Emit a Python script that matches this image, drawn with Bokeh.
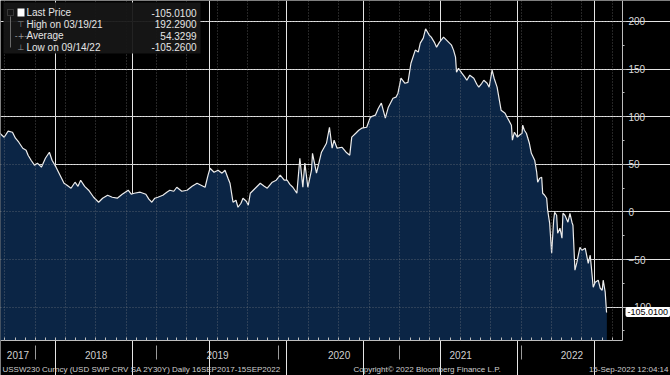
import pandas as pd
from bokeh.plotting import figure
from bokeh.models import (LinearAxis, FixedTicker, Grid, Range1d, Label,
                          BoxAnnotation, ColumnDataSource)
from bokeh.embed import file_html
from bokeh.resources import INLINE

# ---------------- data ----------------
dates = [
    "2017-09-16", "2017-09-29", "2017-10-11", "2017-10-24", "2017-11-02", "2017-11-12",
    "2017-11-24", "2017-12-04", "2017-12-10", "2017-12-19", "2017-12-29",
    "2018-01-07", "2018-01-19", "2018-01-31", "2018-02-12", "2018-02-20", "2018-03-04",
    "2018-03-16", "2018-03-28", "2018-04-06", "2018-04-18", "2018-04-30", "2018-05-09",
    "2018-05-17", "2018-05-29", "2018-06-10", "2018-06-25", "2018-07-10", "2018-07-22",
    "2018-08-06", "2018-08-20", "2018-09-04", "2018-09-19", "2018-10-07", "2018-10-16",
    "2018-10-25", "2018-11-12", "2018-11-29", "2018-12-08", "2018-12-17", "2018-12-26",
    "2019-01-04", "2019-01-19", "2019-01-31", "2019-02-09", "2019-02-21", "2019-03-02",
    "2019-03-17", "2019-04-02", "2019-04-17", "2019-05-02", "2019-05-14", "2019-05-26",
    "2019-06-04", "2019-06-10", "2019-06-22", "2019-07-04", "2019-07-16", "2019-07-25",
    "2019-08-03", "2019-08-09", "2019-08-18", "2019-08-27", "2019-09-02", "2019-09-11",
    "2019-09-17", "2019-09-27", "2019-10-03", "2019-10-09", "2019-10-24", "2019-11-08",
    "2019-11-20", "2019-11-29", "2019-12-14", "2019-12-26",
    "2020-01-07", "2020-01-19", "2020-01-28", "2020-02-05", "2020-02-14", "2020-02-26",
    "2020-03-06", "2020-03-15", "2020-03-21", "2020-03-30", "2020-04-10", "2020-04-13",
    "2020-04-25", "2020-05-10", "2020-05-25", "2020-06-03", "2020-06-11", "2020-06-17",
    "2020-06-26", "2020-07-11", "2020-07-23", "2020-08-03", "2020-08-09", "2020-08-21",
    "2020-08-30", "2020-09-08", "2020-09-23", "2020-10-04", "2020-10-19", "2020-10-28",
    "2020-11-06", "2020-11-18", "2020-11-27", "2020-12-11", "2020-12-20", "2020-12-26",
    "2021-01-04", "2021-01-16", "2021-01-25", "2021-02-03", "2021-02-16", "2021-02-25",
    "2021-03-03", "2021-03-12", "2021-03-19", "2021-03-30", "2021-04-05", "2021-04-14",
    "2021-04-21", "2021-04-30", "2021-05-12", "2021-05-21", "2021-05-27", "2021-06-05",
    "2021-06-11", "2021-06-17", "2021-06-20", "2021-06-26", "2021-07-06", "2021-07-15",
    "2021-07-21", "2021-07-30", "2021-08-11", "2021-08-20", "2021-08-26", "2021-09-04",
    "2021-09-10", "2021-09-20", "2021-09-26", "2021-10-05", "2021-10-11", "2021-10-20",
    "2021-11-01", "2021-11-13", "2021-11-19", "2021-12-02", "2021-12-05", "2021-12-11",
    "2021-12-20", "2021-12-26",
    "2022-01-03", "2022-01-05", "2022-01-10", "2022-01-16", "2022-01-25", "2022-01-31",
    "2022-02-10", "2022-02-16", "2022-02-19", "2022-02-25", "2022-03-03", "2022-03-06",
    "2022-03-12", "2022-03-18", "2022-03-21", "2022-03-27", "2022-04-02", "2022-04-08",
    "2022-04-11", "2022-04-17", "2022-04-20", "2022-04-27", "2022-05-03", "2022-05-06",
    "2022-05-12", "2022-05-21", "2022-05-27", "2022-06-02", "2022-06-05", "2022-06-11",
    "2022-06-17", "2022-06-26", "2022-07-02", "2022-07-12", "2022-07-21", "2022-07-27",
    "2022-08-05", "2022-08-11", "2022-08-20", "2022-08-26", "2022-09-01", "2022-09-04",
    "2022-09-10", "2022-09-14", "2022-09-15",
]
values = [
    82.7, 78.4, 84.8, 83.7, 77.4, 73.2, 66.9, 64.8, 59.5, 54.3, 49.1,
    51.2, 47.0, 56.4, 62.7, 54.3, 47.0, 38.6, 30.1, 28.0, 24.9, 31.2, 26.9,
    33.3, 26.9, 22.8, 15.4, 10.2, 14.4, 17.5, 15.4, 14.4, 18.6, 22.8, 18.6,
    19.6, 20.7, 18.6, 13.4, 10.2, 14.4,
    15.4, 17.5, 20.7, 22.8, 21.7, 25.9, 21.7, 22.8, 26.9, 30.1, 28.0, 25.9,
    38.6, 45.9, 41.7, 43.8, 40.7, 43.8, 35.4, 30.1, 10.2, 12.3, 4.9, 9.1,
    14.4, 11.2, 7.0, 19.6, 24.9, 30.1, 26.9, 24.9, 31.2, 33.3,
    38.6, 33.3, 33.3, 28.9, 25.9, 19.6, 56.4, 25.9, 51.2, 25.9, 43.8, 61.6,
    40.7, 62.7, 72.1, 88.9, 66.9, 75.3, 66.9, 67.9, 62.7, 59.6, 78.5, 82.6,
    85.8, 87.9, 88.9, 99.5, 101.6, 108.9, 114.2, 98.4, 110.0, 119.4, 120.5, 124.7,
    140.4, 135.1, 136.1, 156.1, 169.9, 167.8, 177.2, 182.5, 192.29, 185.6, 183.5, 178.3,
    173.0, 178.3, 183.5, 180.4, 178.3, 175.1, 169.9, 162.5, 146.7, 150.9, 145.7, 141.5,
    138.3, 143.6, 140.4, 134.1, 131.0, 135.1, 138.3, 135.1, 131.0, 148.8, 140.4, 131.0,
    106.8, 103.6, 99.5, 91.1, 75.3, 83.7, 78.5, 80.5,
    82.6, 91.1, 85.8, 82.6, 72.1, 61.6, 54.3, 41.7, 31.2, 35.4, 36.4, 19.6,
    17.5, 14.4, 1.8, -11.9, -43.4, -8.7, -0.3, -3.5, -22.4, -17.1, -27.6, -1.4,
    -3.5, -10.8, -1.4, -10.8, -14.0, -61.2, -52.8, -37.1, -40.2, -38.1, -53.9, -45.5,
    -79.1, -73.8, -71.7, -80.1, -82.2, -71.7, -84.3, -105.26, -105.01,
]

year_names = ["2017", "2018", "2019", "2020", "2021", "2022"]
y_ticks = [-100, -50, 0, 50, 100, 150, 200]
y_minor_ticks = [-125, -75, -25, 25, 75, 125, 175]
legend_names = ["Last Price", "High on 03/19/21", "Average", "Low on 09/14/22"]
legend_values = ["-105.0100", "192.2900", "54.3299", "-105.2600"]
last_price = -105.01
last_price_text = "-105.0100"
footer_left = "USSW230 Curncy (USD SWP CRV SA 2Y30Y)  Daily 16SEP2017-15SEP2022"
footer_mid = "Copyright\u00a9 2022 Bloomberg Finance L.P."
footer_right = "15-Sep-2022 12:04:14"

X_START, X_END = "2017-09-18", "2022-11-01"
Y_START, Y_END = -135, 222

# ---------------- layout constants ----------------
def ms(d):
    return int(pd.Timestamp(d).value // 10**6)

W, H = 670, 375          # whole canvas (frame covers it; axes sit at fixed locations)
FW, FH = 622, 340        # size of the data area inside it
FONT = "Liberation Sans"
GRID = dict(grid_line_color="#8a8a8a", grid_line_dash="1 2", grid_line_alpha=0.55)

x0, x1 = ms(X_START), ms(X_END)
x_ext = x0 + (x1 - x0) * W / FW
y_ext = Y_END - (Y_END - Y_START) * H / FH

src = ColumnDataSource(dict(x=pd.to_datetime(dates), y=values,
                            base=[Y_START] * len(values)))

p = figure(width=W, height=H, x_range=Range1d(x0, x_ext), y_range=Range1d(y_ext, Y_END),
           x_axis_location=None, y_axis_location=None,
           output_backend="svg", toolbar_location=None,
           background_fill_color="black", border_fill_color="black",
           outline_line_color=None, min_border=0)

p.varea(x="x", y1="base", y2="y", source=src, fill_color="#0b2545")
p.line(x="x", y="y", source=src, line_color="#ececec", line_width=1.2)

# bottom axis 1: monthly ticks + axis line
months = [ms(m) for m in pd.date_range("2017-10-01", "2022-10-01", freq="MS")]
xa1 = LinearAxis(ticker=FixedTicker(ticks=[], minor_ticks=months),
                 fixed_location=Y_START, bounds=(x0, x1),
                 major_tick_line_color=None, major_tick_in=0, major_tick_out=0,
                 minor_tick_in=3, minor_tick_out=0, minor_tick_line_color="#bdbdbd",
                 axis_line_color="#bdbdbd", major_label_standoff=0)
p.add_layout(xa1, "below")

# bottom axis 2: year separators
year_starts = [ms(f"{y}-01-01") for y in year_names[1:]]
xa3 = LinearAxis(ticker=FixedTicker(ticks=[], minor_ticks=year_starts),
                 fixed_location=Y_START, bounds=(x0, x1),
                 major_tick_line_color=None, major_tick_in=0, major_tick_out=0,
                 minor_tick_in=-5, minor_tick_out=19, minor_tick_line_color="#9a9a9a",
                 axis_line_color=None, major_label_standoff=0)
p.add_layout(xa3, "below")

# bottom axis 3: year labels centred in the visible part of each year
bounds = [x0] + year_starts + [x1]
year_mid = [int((bounds[i] + bounds[i + 1]) // 2) for i in range(len(year_names))]
xa2 = LinearAxis(ticker=FixedTicker(ticks=year_mid),
                 fixed_location=Y_START, bounds=(x0, x1),
                 major_tick_in=0, major_tick_out=0, major_tick_line_color=None,
                 minor_tick_line_color=None, axis_line_color=None,
                 major_label_overrides={m: n for m, n in zip(year_mid, year_names)},
                 major_label_text_color="#d0d0d0", major_label_text_font_size="10px",
                 major_label_text_font=FONT, major_label_standoff=10)
p.add_layout(xa2, "below")

# right axis
ya = LinearAxis(ticker=FixedTicker(ticks=y_ticks, minor_ticks=y_minor_ticks),
                fixed_location=x1, bounds=(Y_START, Y_END),
                major_tick_in=0, major_tick_out=4, minor_tick_in=0, minor_tick_out=2,
                axis_line_color="#bdbdbd", major_tick_line_color="#bdbdbd",
                minor_tick_line_color="#bdbdbd",
                major_label_text_color="#d8d8d8", major_label_text_font_size="10px",
                major_label_text_font=FONT, major_label_standoff=2)
p.add_layout(ya, "right")

# dotted grids attached to the axes, limited to the data area
vgrid = Grid(dimension=0, axis=xa2, cross_bounds=(Y_START, Y_END),
             ticker=FixedTicker(ticks=[ms(q) for q in
                                       pd.date_range("2017-10-01", "2022-10-01", freq="QS")]),
             level="annotation", **GRID)
hgrid = Grid(dimension=1, axis=ya, cross_bounds=(x0, x1), level="annotation", **GRID)
p.add_layout(vgrid)
p.add_layout(hgrid)

# last price tag
p.add_layout(Label(x=FW + 3, x_units="screen", y=last_price, y_units="data",
                   text=last_price_text, text_color="black", text_font=FONT,
                   text_font_size="9px", text_baseline="middle", text_align="left",
                   background_fill_color="white", padding=2, border_radius=2,
                   level="overlay"))

# legend box (screen units measured from canvas bottom)
def top(v):
    return H - v

def sbox(l, r, t, b, **kw):
    return BoxAnnotation(left=l, right=r, top=top(t), bottom=top(b),
                         left_units="screen", right_units="screen",
                         top_units="screen", bottom_units="screen", **kw)

p.add_layout(sbox(3, 200, 2, 53, fill_color="#161616", fill_alpha=0.94, line_color=None))
p.add_layout(sbox(17, 24, 8, 16, fill_color="white", fill_alpha=1, line_color=None))
p.add_layout(sbox(7, 13, 9, 15, fill_alpha=0, line_color="#8a8a8a", line_width=1))
p.add_layout(sbox(9.5, 10.5, 16, 47, fill_color="#6a6a6a", fill_alpha=1, line_color=None))
icons = ["", "\u22a4", "-+-", "\u22a5"]
rows = [12, 23.5, 35, 46.5]
for name, val, icon, r in zip(legend_names, legend_values, icons, rows):
    p.add_layout(Label(x=26, y=top(r), x_units="screen", y_units="screen", text=name,
                       text_color="#e6e6e6", text_font=FONT, text_font_size="10px",
                       text_baseline="middle", text_align="left"))
    p.add_layout(Label(x=196, y=top(r), x_units="screen", y_units="screen", text=val,
                       text_color="#e6e6e6", text_font=FONT, text_font_size="10px",
                       text_baseline="middle", text_align="right"))
    if icon:
        p.add_layout(Label(x=20.5, y=top(r), x_units="screen", y_units="screen",
                           text=icon, text_color="#9a9a9a", text_font="DejaVu Sans",
                           text_font_size="8px", text_baseline="middle",
                           text_align="center"))

# footer
for txt, xx, al in [(footer_left, 2, "left"), (footer_mid, 353, "left"),
                    (footer_right, W - 2, "right")]:
    p.add_layout(Label(x=xx, y=6, x_units="screen", y_units="screen", text=txt,
                       text_color="#cfcfcf", text_font=FONT, text_font_size="8px",
                       text_baseline="middle", text_align=al))

html = file_html(p, INLINE)
html = html.replace("<body>", '<body style="background-color:#000000;">', 1)
open("out.html", "w").write(html)
